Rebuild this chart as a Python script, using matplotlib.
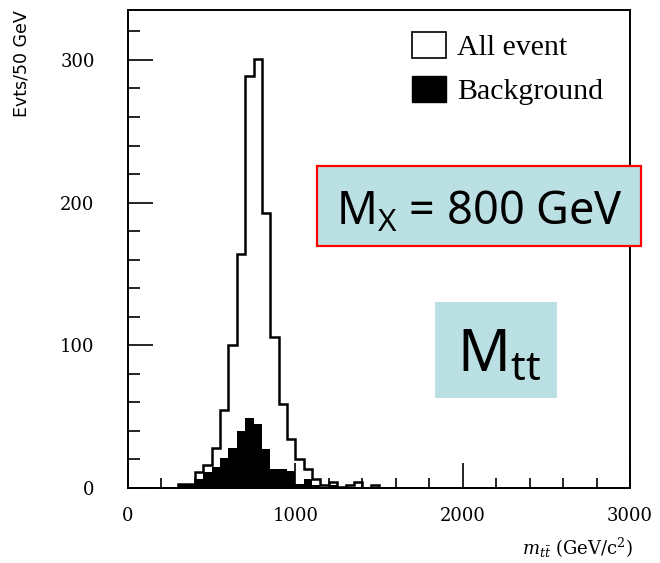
import numpy as np
import matplotlib
matplotlib.use('Agg')
from matplotlib import pyplot as plt
from matplotlib.patches import Rectangle, Patch

plt.rcParams['mathtext.fontset'] = 'custom'
plt.rcParams['mathtext.rm'] = 'Noto Sans'
plt.rcParams['mathtext.it'] = 'Noto Sans:italic'

# 50 GeV bins, 300 -> 1550 GeV
bin_edges = np.arange(300, 1551, 50)
all_event = [3, 3, 11, 16, 28, 55, 100, 164, 289, 301, 193, 106, 59,
             34, 20, 13, 6, 2, 4, 1, 2, 4, 0, 2, 0]
background = [3, 3, 6, 11, 15, 21, 28, 40, 49, 45, 27, 13, 13,
              12, 3, 6, 2, 1, 2, 0, 1, 1, 0, 1, 0]

xticks = [0, 1000, 2000, 3000]
yticks = [0, 100, 200, 300]
legend_labels = ['All event', 'Background']

W, H = 660, 563
fig = plt.figure(figsize=(W / 100, H / 100), dpi=100)
ax = fig.add_axes([128 / W, 1 - 488 / H, 502 / W, 478 / H])

ax.stairs(background, bin_edges, fill=True, color='black')
ax.stairs(all_event, bin_edges, color='black', lw=1.8)

ax.set_xlim(0, 3000)
ax.set_ylim(0, 335)
ax.set_xticks(xticks)
ax.set_xticks(np.arange(0, 3001, 200), minor=True)
ax.set_yticks(yticks)
ax.set_yticks(np.arange(0, 335, 20), minor=True)

ax.tick_params(which='both', direction='in', width=1.2)
ax.tick_params(axis='x', which='major', length=18, pad=14)
ax.tick_params(axis='x', which='minor', length=7)
ax.tick_params(axis='y', which='major', length=18, pad=24)
ax.tick_params(axis='y', which='minor', length=8.5)
for lab in ax.get_xticklabels() + ax.get_yticklabels():
    lab.set_family('DejaVu Serif')
    lab.set_fontsize(13)
for sp in ax.spines.values():
    sp.set_linewidth(1.4)

handles = [Patch(facecolor='white', edgecolor='black', lw=1.2),
           Patch(facecolor='black', edgecolor='black')]
ax.legend(handles, legend_labels, loc='upper left',
          bbox_to_anchor=((412 - 128) / 502, (488 - 32) / 478),
          frameon=False, prop={'family': 'Liberation Serif', 'size': 21.5},
          handlelength=1.15, handleheight=0.95, handletextpad=0.35,
          labelspacing=0.5, borderpad=0, borderaxespad=0)

# axis titles
fig.text(13 / W, 1 - 10 / H, 'Evts/50 GeV', rotation=90, ha='left', va='top',
         fontsize=12.5, family='DejaVu Sans')
fig.text(633 / W, 1 - 555 / H, r'$m_{t\bar{t}}$ (GeV/c$^2$)', ha='right',
         va='baseline', fontsize=13, family='DejaVu Serif',
         math_fontfamily='dejavuserif')

# annotation boxes
box_col = '#bbe0e3'
fig.add_artist(Rectangle((317 / W, 1 - 246 / H), 324 / W, 80 / H,
                         transform=fig.transFigure, facecolor=box_col,
                         edgecolor='red', lw=1.6))
fig.text(336 / W, 1 - 224 / H, r'M$_{\mathrm{X}}$ = 800 GeV', ha='left',
         va='baseline', fontsize=32.5, family='Noto Sans')
fig.add_artist(Rectangle((435 / W, 1 - 398 / H), 122 / W, 96 / H,
                         transform=fig.transFigure, facecolor=box_col,
                         edgecolor='none'))
fig.text(457 / W, 1 - 371 / H, r'M$_{\mathrm{tt}}$', ha='left',
         va='baseline', fontsize=42, family='Noto Sans')

fig.savefig('out.png', dpi=100)
